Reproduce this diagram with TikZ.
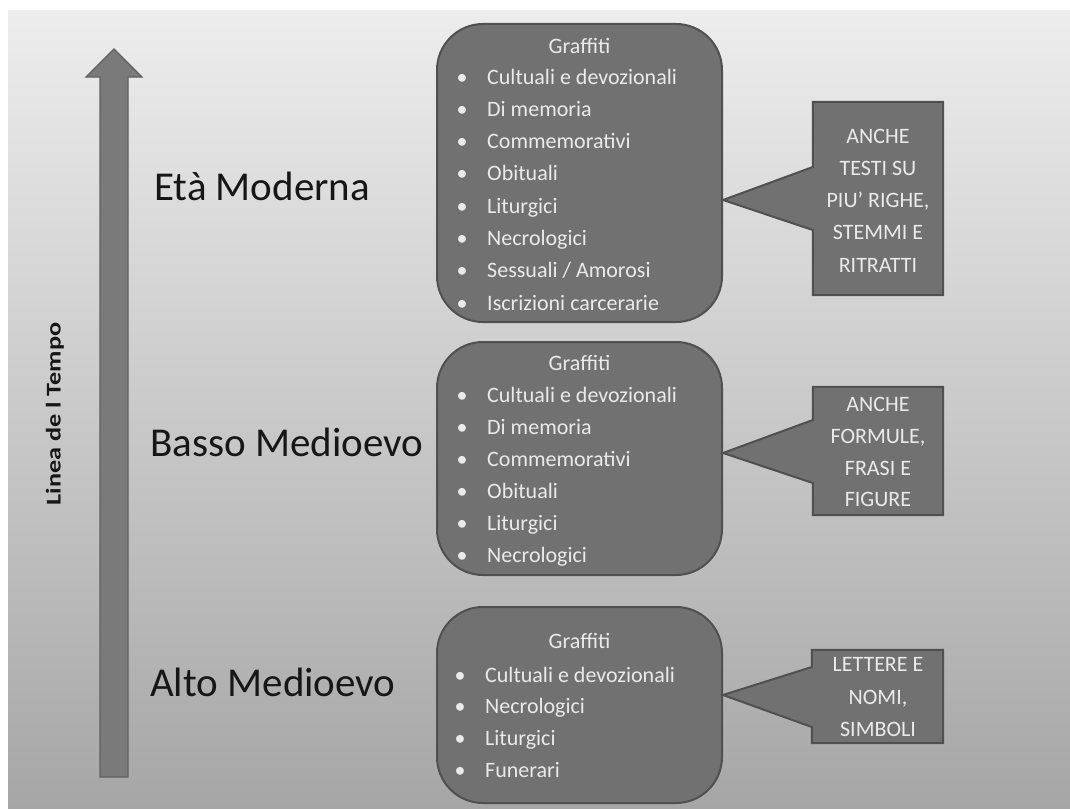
\documentclass[tikz,border=0pt]{standalone}
\usepackage{fontspec}
\usepackage{graphicx}
\setmainfont{Carlito}
\usetikzlibrary{calc}
\definecolor{bgtop}{RGB}{237,237,237}
\definecolor{bgbot}{RGB}{166,166,166}
\definecolor{boxfill}{RGB}{113,113,113}
\definecolor{boxline}{RGB}{80,80,80}
\definecolor{boxtext}{RGB}{234,234,234}
\definecolor{arrowfill}{RGB}{122,122,122}
\definecolor{arrowline}{RGB}{96,96,96}
\definecolor{labeltext}{RGB}{22,22,22}
\tikzset{
  gbox/.style={draw=boxline, line width=2pt, fill=boxfill, rounded corners=46pt, inner sep=0pt},
  cframe/.style={draw=none, fill=none, inner sep=0pt},
  cshape/.style={draw=boxline, line width=2pt, fill=boxfill, line join=miter},
  itemtext/.style={text=boxtext, font=\fontsize{22}{26}\selectfont, inner sep=0pt},
  period/.style={font=\fontsize{41}{48}\selectfont, text=labeltext, inner sep=0pt, anchor=base west},
  axisarrow/.style={fill=arrowfill, draw=arrowline, line width=1.2pt}
}
\begin{document}
\begin{tikzpicture}[x=1pt,y=-1pt]
\useasboundingbox (0,0) rectangle (1070,808);
\fill[white] (0,0) rectangle (1070,808);
\shade[top color=bgtop, bottom color=bgbot] (8,11) rectangle (1070,808);

% time arrow
\draw[axisarrow] (100,777) -- (100,77) -- (86,77) -- (114,49) -- (142,77) -- (128,77) -- (128,777) -- cycle;
\node[rotate=90, font=\bfseries\fontsize{21}{24}\selectfont, text=labeltext, inner sep=0pt] (axis) at (55,414) {\scalebox{1.25}[1]{Linea de l Tempo}};

% period labels
\node[period] (em) at (154,200) {Età Moderna};
\node[period] (bm) at (150,456.5) {Basso Medioevo};
\node[period] (am) at (150,696.5) {Alto Medioevo};

% boxes
\node[gbox, minimum width=285pt, minimum height=298pt] (b1) at (579.5,173) {};
\node[gbox, minimum width=285pt, minimum height=233pt] (b2) at (579.5,458.5) {};
\node[gbox, minimum width=285pt, minimum height=196pt] (b3) at (579.5,705) {};

% box texts
\node[itemtext, anchor=base] (g1) at (579.5,53) {Graffiti};
\foreach \t [count=\i] in {Cultuali e devozionali, Di memoria, Commemorativi, Obituali, Liturgici, Necrologici, Sessuali / Amorosi, Iscrizioni carcerarie} {
  \node[itemtext, anchor=base] (b1d\i) at (462,{84+32.3*(\i-1)}) {•};
  \node[itemtext, anchor=base west] (b1t\i) at (487,{84+32.3*(\i-1)}) {\t};
}
\node[itemtext, anchor=base] (g2) at (579.5,370) {Graffiti};
\foreach \t [count=\i] in {Cultuali e devozionali, Di memoria, Commemorativi, Obituali, Liturgici, Necrologici} {
  \node[itemtext, anchor=base] (b2d\i) at (462,{402+32*(\i-1)}) {•};
  \node[itemtext, anchor=base west] (b2t\i) at (487,{402+32*(\i-1)}) {\t};
}
\node[itemtext, anchor=base] (g3) at (579.5,648) {Graffiti};
\foreach \t [count=\i] in {Cultuali e devozionali, Necrologici, Liturgici, Funerari} {
  \node[itemtext, anchor=base] (b3d\i) at (460,{682+31.7*(\i-1)}) {•};
  \node[itemtext, anchor=base west] (b3t\i) at (485,{682+31.7*(\i-1)}) {\t};
}

% callouts
\node[cframe, minimum width=130pt, minimum height=193pt] (c1) at (878,198.5) {};
\node[cframe, minimum width=130pt, minimum height=128pt] (c2) at (878,451) {};
\node[cframe, minimum width=131pt, minimum height=93pt] (c3) at (877.5,696.5) {};

\filldraw[cshape] (c1.north west) -- (c1.north east) -- (c1.south east) -- (c1.south west)
  -- (c1.west |- 0,230) -- (b1.east |- 0,200) -- (c1.west |- 0,167) -- cycle;
\filldraw[cshape] (c2.north west) -- (c2.north east) -- (c2.south east) -- (c2.south west)
  -- (c2.west |- 0,483) -- (b2.east |- 0,453) -- (c2.west |- 0,420) -- cycle;
\filldraw[cshape] (c3.north west) -- (c3.north east) -- (c3.south east) -- (c3.south west)
  -- (c3.west |- 0,727) -- (b3.east |- 0,695) -- (c3.west |- 0,667) -- cycle;

\foreach \t [count=\i] in {ANCHE, TESTI SU, {PIU’ RIGHE,}, STEMMI E, RITRATTI} {
  \node[itemtext, anchor=base] (c1t\i) at (878,{143+32.25*(\i-1)}) {\t};
}
\foreach \t [count=\i] in {ANCHE, {FORMULE,}, FRASI E, FIGURE} {
  \node[itemtext, anchor=base] (c2t\i) at (878,{411.7+31.7*(\i-1)}) {\t};
}
\foreach \t [count=\i] in {LETTERE E, {NOMI,}, SIMBOLI} {
  \node[itemtext, anchor=base] (c3t\i) at (878,{671.7+32.5*(\i-1)}) {\t};
}
\end{tikzpicture}
\end{document}
